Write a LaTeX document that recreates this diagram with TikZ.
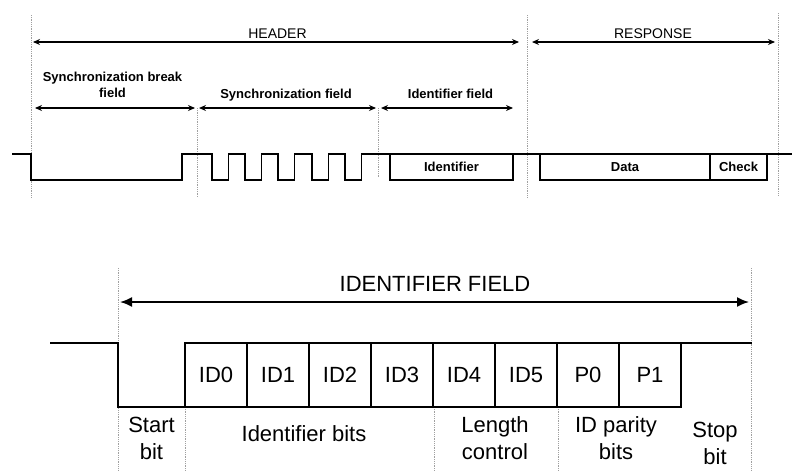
\documentclass[tikz,border=0pt]{standalone}
\usepackage{fontspec}
\setmainfont{Liberation Sans}
\usetikzlibrary{arrows.meta,calc}
\definecolor{guidegray}{HTML}{A0A0A0}

\begin{document}
\begin{tikzpicture}[x=1pt,y=-1pt,
        guide/.style={guidegray, line width=0.8pt, densely dotted},
        wave/.style={line width=1.8pt, line join=miter},
        dimsmall/.style={{Stealth[length=7pt,width=6pt]}-{Stealth[length=7pt,width=6pt]}, line width=1.4pt},
        dimbig/.style={{Latex[length=12pt,width=10pt]}-{Latex[length=12pt,width=10pt]}, line width=1.8pt},
        toptitle/.style={font=\fontsize{14}{16}\selectfont, inner sep=0pt},
        toplbl/.style={font=\fontsize{13}{16}\selectfont\bfseries, inner sep=0pt},
        botlbl/.style={font=\fontsize{22}{27}\selectfont, inner sep=0pt},
        framebox/.style={draw, line width=1.8pt, minimum height=26pt, inner sep=0pt, font=\fontsize{13}{16}\selectfont\bfseries},
        bitbox/.style={draw, line width=2pt, minimum width=62pt, minimum height=64pt, inner sep=0pt, font=\fontsize{22}{27}\selectfont}]
        \useasboundingbox (0,0) rectangle (792,471);
        % header / response frame
        \draw[guide] (31,15) -- (31,197);
        \draw[guide] (527,15) -- (527,197);
        \draw[guide] (778,13) -- (778,195);
        \draw[guide] (197,108) -- (197,197);
        \draw[guide] (378,108) -- (378,178);
        \coordinate (hdrL) at (33,42);
        \coordinate (hdrR) at (519,42);
        \coordinate (rspL) at (532,42);
        \coordinate (rspR) at (775,42);
        \draw[dimsmall] (hdrL) -- (hdrR);
        \draw[dimsmall] (rspL) -- (rspR);
        \node[toptitle, anchor=base] (header) at (277.5,38) {HEADER};
        \node[toptitle, anchor=base] (response) at (653,38) {RESPONSE};
        \coordinate (brkL) at (35,108);
        \coordinate (brkR) at (195,108);
        \coordinate (synL) at (199,108);
        \coordinate (synR) at (376,108);
        \coordinate (idfL) at (381,108);
        \coordinate (idfR) at (513,108);
        \draw[dimsmall] (brkL) -- (brkR);
        \draw[dimsmall] (synL) -- (synR);
        \draw[dimsmall] (idfL) -- (idfR);
        \node[toplbl, align=center] (breakfield) at (112.5,85) {Synchronization break\\field};
        \node[toplbl, anchor=base] (syncfield) at (286,98.5) {Synchronization field};
        \node[toplbl, anchor=base] (identfield) at (450.5,98.5) {Identifier field};
        % frame waveform
        \draw[wave] (12,154) -- (31,154) -- (31,180) -- (182,180) -- (182,154)
          foreach \p in {212,245,278,312,345} { -- (\p,154) -- (\p,180) -- (\p+16.5,180) -- (\p+16.5,154) }
          -- (792,154);
        \node[framebox, minimum width=123pt] (ident) at (451.5,167) {Identifier};
        \node[framebox, minimum width=170pt] (data) at (625,167) {Data};
        \node[framebox, minimum width=57pt] (check) at (738.5,167) {Check};
        % identifier field in detail
        \draw[guide] (118,268) -- (118,471);
        \draw[guide] (751,268) -- (751,471);
        \draw[guide] (185,407) -- (185,471);
        \draw[guide] (434,407) -- (434,471);
        \draw[guide] (558,407) -- (558,471);
        \coordinate (fldL) at (120,302);
        \coordinate (fldR) at (749,302);
        \draw[dimbig] (fldL) -- (fldR);
        \node[botlbl, anchor=base] (idtitle) at (435,291) {IDENTIFIER FIELD};
        \draw[wave, line width=2.2pt] (50,343) -- (118,343) -- (118,407) -- (185,407) -- (185,343) -- (752,343);
        \foreach \lbl [count=\i from 0] in {ID0,ID1,ID2,ID3,ID4,ID5,P0,P1}
          \node[bitbox] (bit\i) at ({216+62*\i},375) {\lbl};
        \node[botlbl, align=center] (startbit) at (151.5,438.5) {Start\\bit};
        \node[botlbl] (identbits) at (304,434) {Identifier bits};
        \node[botlbl, align=center] (lenctrl) at (495,438.5) {Length\\control};
        \node[botlbl, align=center] (paritybits) at (616,438.5) {ID parity\\bits};
        \node[botlbl, align=center] (stopbit) at (715,443) {Stop\\bit};
      \end{tikzpicture}
\end{document}
